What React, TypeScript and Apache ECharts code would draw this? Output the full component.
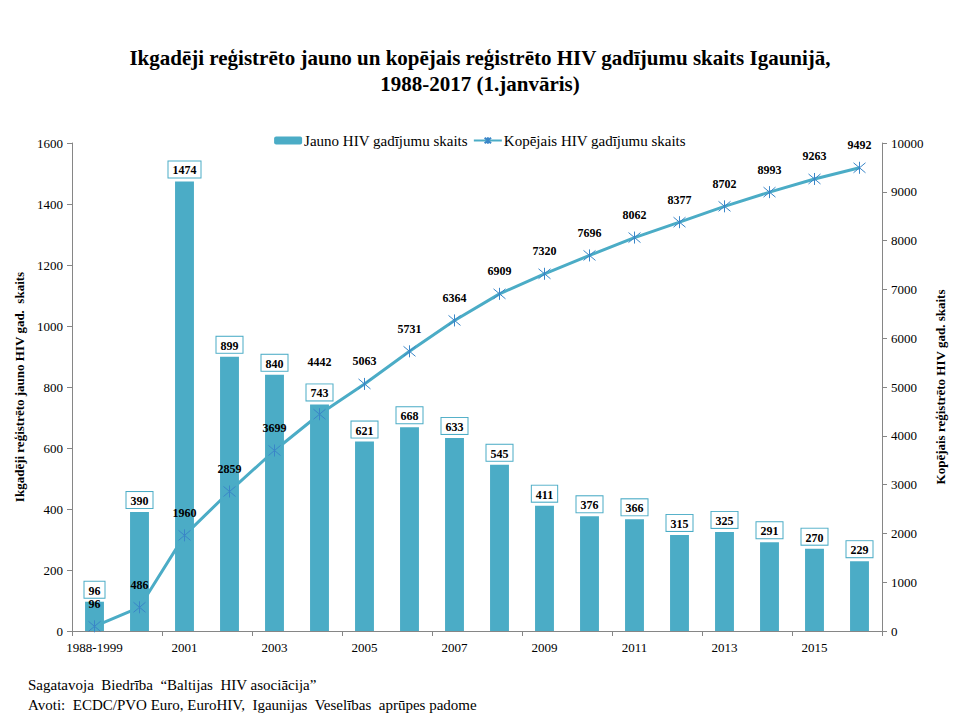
import { useEffect, useRef } from "react";
import * as echarts from "echarts";

const years = ["1988-1999", "2000", "2001", "2002", "2003", "2004", "2005", "2006", "2007", "2008", "2009", "2010", "2011", "2012", "2013", "2014", "2015", "2016"];
const newCases = [96, 390, 1474, 899, 840, 743, 621, 668, 633, 545, 411, 376, 366, 315, 325, 291, 270, 229];
const totalCases = [96, 486, 1960, 2859, 3699, 4442, 5063, 5731, 6364, 6909, 7320, 7696, 8062, 8377, 8702, 8993, 9263, 9492];

const FONT = "Liberation Serif";
const BAR = "#4bacc6";
const MARK = "#3a86c8";
const STAR = "path://M0 0L10 10M10 0L0 10M5 -1L5 11";

export default function App() {
  const ref = useRef<HTMLDivElement | null>(null);

  useEffect(() => {
    document.body.style.margin = "0";
    if (!ref.current) return;
    const chart = echarts.init(ref.current, undefined, { renderer: "svg" });
    const axisLine = { show: true, lineStyle: { color: "#868686" } };
    const tickLabel = { fontFamily: FONT, fontSize: 13, color: "#000", margin: 9, formatter: (v: number) => String(v) };
    // the 2004 total label sits above the bar's box in the reference
    const lineData = totalCases.map((v, i) => (i === 5 ? { value: v, label: { offset: [0, -30] } } : v));
    chart.setOption({
      animation: false,
      backgroundColor: "#fff",
      textStyle: { fontFamily: FONT },
      title: {
        text: "Ikgadēji reģistrēto jauno un kopējais reģistrēto HIV gadījumu skaits Igaunijā,\n1988-2017 (1.janvāris)",
        left: "center",
        top: 40,
        textStyle: { fontFamily: FONT, fontSize: 21, fontWeight: "bold", color: "#000", lineHeight: 26 },
      },
      legend: {
        top: 128,
        left: "center",
        itemWidth: 28,
        itemHeight: 8,
        itemGap: 5,
        textStyle: { fontFamily: FONT, fontSize: 15, color: "#000", padding: [0, 0, 0, -3] },
        data: ["Jauno HIV gadījumu skaits", "Kopējais HIV gadījumu skaits"],
      },
      grid: { left: 72, right: 78, top: 143, bottom: 89 },
      xAxis: {
        type: "category",
        data: years,
        axisLine,
        axisTick: { show: true, lineStyle: { color: "#868686" }, length: 5 },
        axisLabel: { interval: 1, fontFamily: FONT, fontSize: 13, color: "#000", margin: 10 },
      },
      yAxis: [
        {
          type: "value",
          min: 0,
          max: 1600,
          interval: 200,
          name: "Ikgadēji reģistrēto jauno HIV gad.  skaits",
          nameLocation: "middle",
          nameGap: 44,
          nameTextStyle: { fontFamily: FONT, fontSize: 13, fontWeight: "bold", color: "#000" },
          axisLine,
          axisTick: { show: true, lineStyle: { color: "#868686" }, length: 5 },
          splitLine: { show: false },
          axisLabel: tickLabel,
        },
        {
          type: "value",
          min: 0,
          max: 10000,
          interval: 1000,
          name: "Kopējais reģistrēto HIV gad. skaits",
          nameLocation: "middle",
          nameGap: 52,
          nameRotate: 90,
          nameTextStyle: { fontFamily: FONT, fontSize: 13, fontWeight: "bold", color: "#000" },
          axisLine,
          axisTick: { show: true, lineStyle: { color: "#868686" }, length: 5 },
          splitLine: { show: false },
          axisLabel: tickLabel,
        },
      ],
      series: [
        {
          name: "Jauno HIV gadījumu skaits",
          type: "bar",
          data: newCases,
          barWidth: "42%",
          itemStyle: { color: BAR },
          label: {
            show: true,
            position: "top",
            distance: 4,
            fontFamily: FONT,
            fontSize: 12,
            fontWeight: "bold",
            color: "#000",
            backgroundColor: "#fff",
            borderColor: BAR,
            borderWidth: 1,
            padding: [3, 4, 1, 4],
          },
        },
        {
          name: "Kopējais HIV gadījumu skaits",
          type: "line",
          yAxisIndex: 1,
          data: lineData,
          symbol: STAR,
          symbolSize: 12,
          lineStyle: { color: BAR, width: 3 },
          itemStyle: { color: MARK, borderColor: MARK, borderWidth: 1 },
          label: {
            show: true,
            position: "top",
            distance: 10,
            fontFamily: FONT,
            fontSize: 12,
            fontWeight: "bold",
            color: "#000",
          },
        },
      ],
      graphic: [
        { type: "text", left: 28, top: 677, style: { text: "Sagatavoja  Biedrība  “Baltijas  HIV asociācija”", font: `15px ${FONT}`, fill: "#000" } },
        { type: "text", left: 28, top: 697, style: { text: "Avoti:  ECDC/PVO Euro, EuroHIV,  Igaunijas  Veselības  aprūpes padome", font: `15px ${FONT}`, fill: "#000" } },
      ],
    });
    return () => chart.dispose();
  }, []);

  return <div ref={ref} style={{ width: 960, height: 720 }} />;
}
